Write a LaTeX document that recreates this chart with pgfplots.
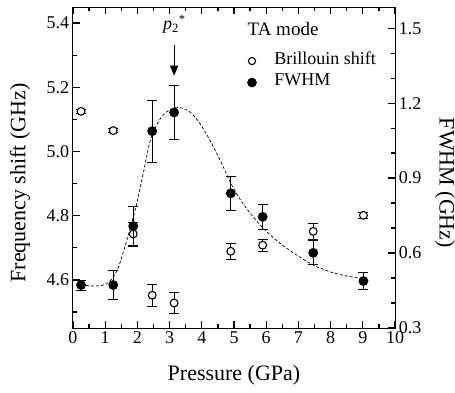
\documentclass[border=0pt]{standalone}
\usepackage{fontspec}
\setmainfont{Liberation Serif}
\usepackage{pgfplots}
\pgfplotsset{compat=1.18}
\usetikzlibrary{arrows.meta}
\pgfplotstableread{
x y e
0.25 5.125 0.005
1.25 5.065 0.006
1.87 4.743 0.035
2.46 4.552 0.033
3.14 4.528 0.032
4.90 4.689 0.026
5.89 4.708 0.018
7.46 4.751 0.024
9.02 4.801 0.010
}\brill
\pgfplotstableread{
x y e
0.25 0.472 0.020
1.25 0.472 0.057
1.87 0.708 0.080
2.46 1.088 0.125
3.14 1.163 0.107
4.90 0.839 0.068
5.89 0.745 0.052
7.46 0.601 0.048
9.02 0.488 0.035
}\fwhm
\pgfplotstableread{
x y
0.25 0.473
0.50 0.469
0.75 0.468
1.00 0.474
1.20 0.495
1.40 0.540
1.60 0.620
1.80 0.710
2.00 0.810
2.20 0.930
2.40 1.050
2.65 1.125
2.90 1.165
3.27 1.183
3.63 1.165
3.94 1.119
4.25 1.052
4.57 0.972
4.88 0.885
5.19 0.815
5.50 0.760
5.90 0.700
6.43 0.639
6.95 0.592
7.46 0.552
7.98 0.525
8.50 0.508
9.00 0.498
}\fit
\begin{document}
\begin{tikzpicture}
\useasboundingbox (-73pt,-64pt) rectangle (382pt,328pt);
\pgfplotsset{
 every axis/.append style={scale only axis, width=322pt, height=321pt,
   xmin=0, xmax=10, line width=1pt,
   major tick length=7pt, minor tick length=4pt,
   tick label style={font=\fontsize{18}{20}\selectfont},
   label style={font=\fontsize{22}{26}\selectfont},
   /pgf/number format/assume math mode=true},
}
\begin{axis}[
  ymin=4.45, ymax=5.45,
  xtick={0,1,2,3,4,5,6,7,8,9,10},
  minor xtick={0.5,1.5,2.5,3.5,4.5,5.5,6.5,7.5,8.5,9.5},
  ytick={4.6,4.8,5.0,5.2,5.4}, minor ytick={4.5,4.7,4.9,5.1,5.3},
  xtick pos=both, ytick pos=left, tick align=inside,
  tick style={line width=1.3pt, black},
  yticklabel style={/pgf/number format/.cd, fixed, fixed zerofill, precision=1},
  xlabel={Pressure (GPa)}, ylabel={Frequency shift (GHz)},
  xlabel style={at={(rel axis cs:0.5,0)}, anchor=center, yshift=-47pt},
  ylabel style={at={(rel axis cs:0,0.452)}, anchor=center, yshift=53pt},
]
\addplot[only marks, mark=*, mark size=3.9pt, mark options={fill=white, draw=black, line width=1.1pt},
  error bars/.cd, y dir=both, y explicit,
  error bar style={line width=0.7pt, black},
  error mark options={line width=0.7pt, mark size=5pt, black, rotate=90}]
  table[x=x, y=y, y error=e] {\brill};
\draw[line width=0.8pt, -{Triangle[length=10pt,width=8pt]}] (axis cs:3.14,5.333) -- (axis cs:3.14,5.236);
\node[anchor=base, inner sep=0pt, font=\fontsize{18}{20}\selectfont] at (axis cs:3.15,5.379) {\textit{p}\textsubscript{2}\textsuperscript{*}};
\node[anchor=base west, inner sep=0pt, font=\fontsize{19}{22}\selectfont] at (axis cs:5.41,5.361) {TA mode};
\end{axis}
\begin{axis}[
  axis x line=none, axis y line*=right,
  ymin=0.3, ymax=1.585,
  ytick={0.3,0.6,0.9,1.2,1.5}, minor y tick num=2,
  tick style={line width=1.3pt, black},
  yticklabel style={/pgf/number format/.cd, fixed, fixed zerofill, precision=1},
  ylabel={FWHM (GHz)},
  ylabel style={at={(rel axis cs:1,0.452)}, anchor=center, rotate=180, yshift=50pt},
  legend image code/.code={\draw[#1] plot coordinates {(0pt,0pt)};},
  legend style={draw=none, fill=none, at={(rel axis cs:0.541,0.848)}, anchor=north west,
    font=\fontsize{18}{20}\selectfont, row sep=12pt, inner sep=0pt,
    nodes={inner ysep=1pt, inner xsep=2pt, text height=0.7em, text depth=0.05em},
    /tikz/every odd column/.append style={column sep=16pt}},
  legend cell align=left,
]
\addlegendimage{only marks, mark=*, mark size=3.6pt, mark options={fill=white, draw=black, line width=1.1pt}}
\addlegendentry{Brillouin shift}
\addlegendimage{only marks, mark=*, mark size=4.3pt, black}
\addlegendentry{FWHM}
\addplot[densely dashed, line width=0.7pt, smooth, forget plot] table[x=x, y=y] {\fit};
\addplot[only marks, mark=*, mark size=4.4pt, black, forget plot,
  error bars/.cd, y dir=both, y explicit,
  error bar style={line width=0.7pt, black},
  error mark options={line width=0.7pt, mark size=5pt, black, rotate=90}]
  table[x=x, y=y, y error=e] {\fwhm};
\end{axis}
\end{tikzpicture}
\end{document}
